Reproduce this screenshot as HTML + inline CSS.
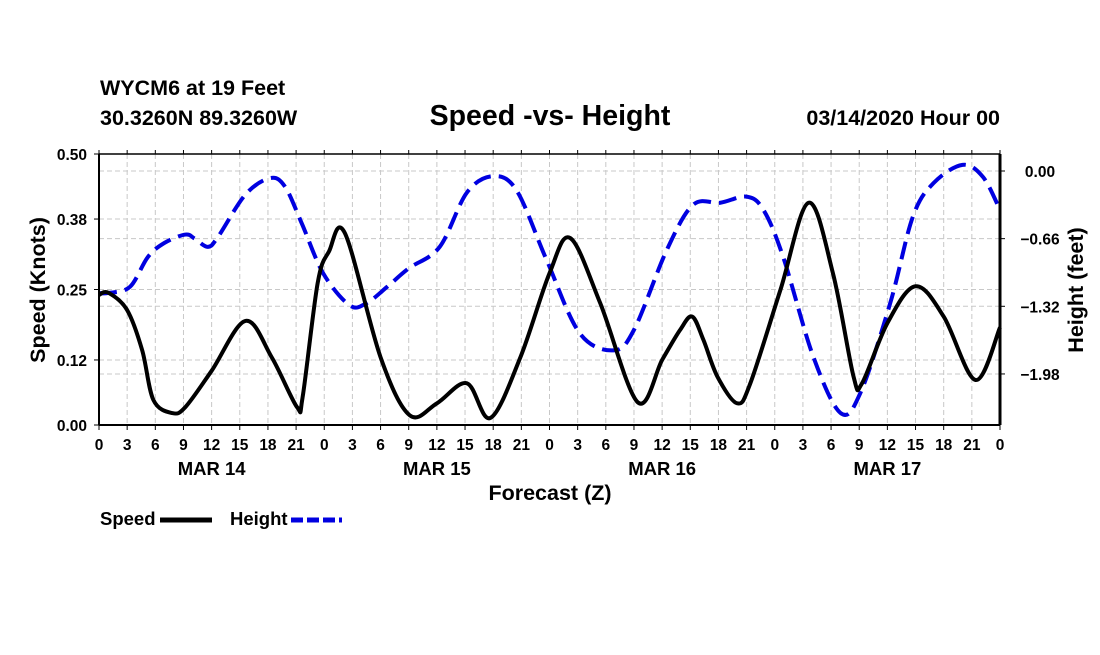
<!DOCTYPE html>
<html><head><meta charset="utf-8"><style>
html,body{margin:0;padding:0;background:#fff;}
svg text{font-family:"Liberation Sans",sans-serif;font-weight:bold;fill:#000;}
</style></head><body>
<svg id="chart" width="1100" height="650" xmlns="http://www.w3.org/2000/svg">
<text x="100" y="95" font-size="21.5">WYCM6 at 19 Feet</text>
<text x="100" y="125" font-size="21.5">30.3260N 89.3260W</text>
<text x="550" y="125" font-size="28.5" text-anchor="middle">Speed -vs- Height</text>
<text x="1000" y="125" font-size="21.5" text-anchor="end">03/14/2020 Hour 00</text>
<g id="grid"></g>
<g id="series"></g>
<g id="axes"></g>
<text transform="translate(45,290) rotate(-90)" font-size="21.5" text-anchor="middle">Speed (Knots)</text>
<text transform="translate(1083,290) rotate(-90)" font-size="21.5" text-anchor="middle">Height (feet)</text>
<text x="550" y="500" font-size="21.5" text-anchor="middle">Forecast (Z)</text>
<g>
<text x="100" y="525" font-size="18.5">Speed</text>
<line x1="160" y1="520" x2="212" y2="520" stroke="#000" stroke-width="5"/>
</g>
<g>
<text x="230" y="525" font-size="18.5">Height</text>
<line x1="291" y1="520" x2="342" y2="520" stroke="#0000e0" stroke-width="5" stroke-dasharray="12,4"/>
</g>
</svg>
<script>
const speedHours=[0,1,3,4.6,5.8,7.8,9.2,12,15.6,18.4,21.1,21.7,23.3,24.5,26.2,30,33.1,36,39.2,41.7,44.9,48,50.2,53.4,57.4,60,61.9,63.2,64.4,65.9,68,69.4,72.6,75.6,78.2,80.4,81.3,84,87,90,93.4,96];
const speedValues=[0.24,0.244,0.212,0.138,0.046,0.022,0.033,0.10,0.192,0.125,0.033,0.052,0.262,0.32,0.354,0.125,0.018,0.04,0.077,0.013,0.125,0.28,0.345,0.225,0.042,0.12,0.175,0.2,0.157,0.089,0.04,0.077,0.249,0.41,0.28,0.089,0.077,0.188,0.256,0.2,0.083,0.18];
const heightHours=[0,1,3.3,5.2,7,9.2,10.2,11.6,12.7,15.6,18.2,19.8,21.6,23.9,26.7,28.5,30.7,33,36.3,39.2,42,44.5,47.7,51.2,54.8,57,60.5,63.3,66.2,69,70.8,72.9,76.1,79,81.1,84.3,86.7,88.9,92,94.2,96];
const heightValues=[-1.19,-1.19,-1.13,-0.84,-0.70,-0.62,-0.66,-0.74,-0.64,-0.23,-0.07,-0.15,-0.51,-1.0,-1.31,-1.29,-1.13,-0.95,-0.74,-0.21,-0.05,-0.19,-0.87,-1.58,-1.75,-1.55,-0.77,-0.33,-0.31,-0.25,-0.38,-0.84,-1.81,-2.36,-2.17,-1.29,-0.45,-0.12,0.06,-0.06,-0.38];
const speedTicks=[0,0.12,0.25,0.38,0.5];
const speedTickLabels=["0.00","0.12","0.25","0.38","0.50"];
const heightTicks=[0,-0.66,-1.32,-1.98];
const heightTickLabels=["0.00","-0.66","-1.32","-1.98"];
const hourLabels=["0","3","6","9","12","15","18","21","0","3","6","9","12","15","18","21","0","3","6","9","12","15","18","21","0","3","6","9","12","15","18","21","0"];
const dayLabels=["MAR 14","MAR 15","MAR 16","MAR 17"];

const X0=99,X1=1000,Y0=425,Y1=154;
const xs=h=>X0+h*(X1-X0)/96;
const ys=v=>Y0-v*(Y0-Y1)/0.5;
const yh=v=>171-v*102.5;
const NS="http://www.w3.org/2000/svg";
function mk(p,tag,a){const e=document.createElementNS(NS,tag);for(const k in a)e.setAttribute(k,a[k]);p.appendChild(e);return e;}
const grid=document.getElementById('grid'),axes=document.getElementById('axes'),series=document.getElementById('series');
const gs={stroke:"#c8c8c8","stroke-width":1,"stroke-dasharray":"5,3"};
for(let i=1;i<32;i++){const l=mk(grid,'line',Object.assign({x1:xs(i*3),x2:xs(i*3),y1:Y1,y2:Y0},gs));

}
speedTicks.slice(1,4).forEach(v=>{const l=mk(grid,'line',Object.assign({x1:X0,x2:X1,y1:ys(v),y2:ys(v)},gs));

});
heightTicks.forEach(v=>{const l=mk(grid,'line',Object.assign({x1:X0,x2:X1,y1:yh(v),y2:yh(v)},gs));

});
function smooth(px){let d=`M${px[0][0]},${px[0][1]}`;for(let i=0;i<px.length-1;i++){const p0=px[Math.max(i-1,0)],p1=px[i],p2=px[i+1],p3=px[Math.min(i+2,px.length-1)];
d+=` C${p1[0]+(p2[0]-p0[0])/6},${p1[1]+(p2[1]-p0[1])/6} ${p2[0]-(p3[0]-p1[0])/6},${p2[1]-(p3[1]-p1[1])/6} ${p2[0]},${p2[1]}`;}return d;}
const hp=mk(series,'path',{d:smooth(heightHours.map((h,i)=>[xs(h),yh(heightValues[i])])),fill:"none",stroke:"#0000e0","stroke-width":4,"stroke-dasharray":"18,8"});


const sp=mk(series,'path',{d:smooth(speedHours.map((h,i)=>[xs(h),ys(speedValues[i])])),fill:"none",stroke:"#000","stroke-width":4,"stroke-linejoin":"round"});


mk(axes,'line',{x1:X0,x2:X1,y1:Y1,y2:Y1,stroke:"#000","stroke-width":1.5});
mk(axes,'line',{x1:X0,x2:X1,y1:Y0,y2:Y0,stroke:"#000","stroke-width":2});
mk(axes,'line',{x1:X0,x2:X0,y1:Y1,y2:Y0,stroke:"#000","stroke-width":2});
mk(axes,'line',{x1:X1,x2:X1,y1:Y1,y2:Y0,stroke:"#000","stroke-width":3});
hourLabels.forEach((t,i)=>{const x=xs(i*3);mk(axes,'line',{x1:x,x2:x,y1:Y0,y2:Y0+5,stroke:"#000"});mk(axes,'line',{x1:x,x2:x,y1:Y1,y2:Y1-4,stroke:"#000"});
const e=mk(axes,'text',{x:x,y:450,"font-size":15.5,"text-anchor":"middle"});e.textContent=t;

});
dayLabels.forEach((t,i)=>{const e=mk(axes,'text',{x:xs(i*24+12),y:475,"font-size":18.5,"text-anchor":"middle"});e.textContent=t;

});
speedTicks.forEach((v,i)=>{mk(axes,'line',{x1:X0-5,x2:X0,y1:ys(v),y2:ys(v),stroke:"#000"});
const e=mk(axes,'text',{x:87,y:ys(v)+6,"font-size":15.5,"text-anchor":"end"});e.textContent=speedTickLabels[i];

});
heightTicks.forEach((v,i)=>{mk(axes,'line',{x1:X1,x2:X1+5,y1:yh(v),y2:yh(v),stroke:"#000"});
const e=mk(axes,'text',{x:1040,y:yh(v)+6,"font-size":15.5,"text-anchor":"middle"});e.textContent=heightTickLabels[i].replace('-','\u2212');

});
</script>
</body></html>
